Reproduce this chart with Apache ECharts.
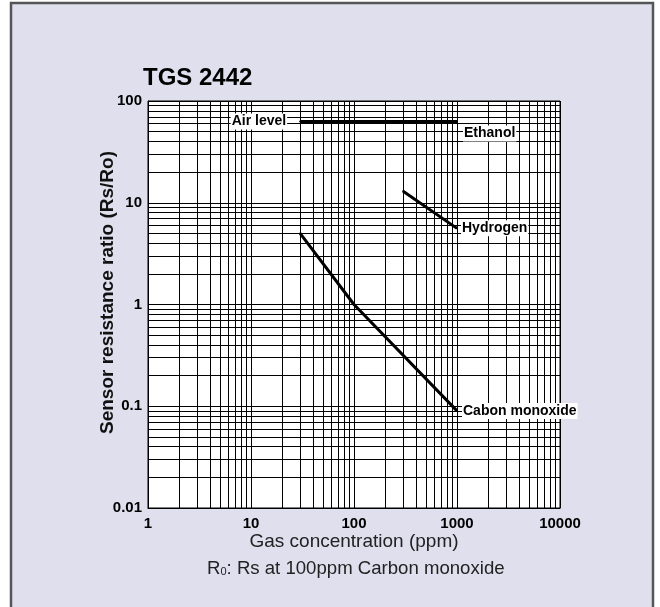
<!DOCTYPE html>
<html lang="en">
<head>
    <meta charset="UTF-8">
    <script src="https://cdn.jsdelivr.net/npm/echarts@6.0.0/dist/echarts.min.js"></script>
    <title>TGS 2442</title>
    <style>
        body { margin: 0; background: #fff; }
        #chart { width: 660px; height: 607px; }
    </style>
</head>
<body>
    <div id="chart"></div>
    <script type="text/javascript">
        // values (ppm, Rs/Ro)
        var ethanol = [[30, 63], [1000, 63]];
        var hydrogen = [[300, 13], [1000, 5.6]];
        var carbonMonoxide = [[30, 5], [100, 1], [1000, 0.09]];
        var xTicks = [1, 10, 100, 1000, 10000];
        var yTicks = [0.01, 0.1, 1, 10, 100];

        var sans = 'Arial, "Liberation Sans", Helvetica, sans-serif';
        var labelBox = {
            fontFamily: sans,
            fontWeight: 'bold',
            fontSize: 14,
            color: '#000',
            backgroundColor: '#fff',
            padding: [1, 1]
        };

        // log grid: 1..9 in every decade
        function gridValues(ticks) {
            var out = [];
            for (var i = 0; i < ticks.length - 1; i++) {
                for (var k = 1; k < 10; k++) out.push(ticks[i] * k);
            }
            out.push(ticks[ticks.length - 1]);
            return out;
        }
        var gridLines = [];
        gridValues(xTicks).forEach(function (v) { gridLines.push({ xAxis: v }); });
        gridValues(yTicks).forEach(function (v) { gridLines.push({ yAxis: v }); });

        function withLabels(points, labels) {
            return points.map(function (p, i) {
                var item = { value: p };
                if (labels[i]) item.label = Object.assign({ show: true }, labelBox, labels[i]);
                return item;
            });
        }

        function curve(name, points, labels) {
            return {
                name: name,
                type: 'line',
                symbol: 'circle',
                symbolSize: 2,
                showSymbol: true,
                itemStyle: { color: '#000' },
                lineStyle: { color: '#000', width: 3 },
                label: { show: false },
                data: withLabels(points, labels),
                z: 5
            };
        }

        var chart = echarts.init(document.getElementById('chart'));
        var option = {
            backgroundColor: '#fff',
            animation: false,
            graphic: [
                {
                    type: 'rect',
                    shape: { x: 11, y: 3, width: 642, height: 620 },
                    style: { fill: '#dfdfee', stroke: '#555', lineWidth: 2.5 },
                    z: -10
                },
                {
                    type: 'text',
                    left: 207,
                    top: 559,
                    style: {
                        text: '{r|R}{s|0}{r|: Rs at 100ppm Carbon monoxide}',
                        rich: {
                            r: { fontFamily: sans, fontSize: 18.6, fill: '#222' },
                            s: { fontFamily: sans, fontSize: 11, fill: '#222', padding: [6, 0, 0, 0] }
                        }
                    }
                }
            ],
            title: {
                text: 'TGS 2442',
                left: 138,
                top: 61,
                textStyle: { fontFamily: sans, fontWeight: 'bold', fontSize: 24, color: '#000' }
            },
            grid: {
                left: 148, right: 100, top: 101, bottom: 99,
                show: true, backgroundColor: '#fff', borderColor: '#000', borderWidth: 1
            },
            xAxis: {
                type: 'log',
                logBase: 10,
                min: 1,
                max: 10000,
                name: 'Gas concentration (ppm)',
                nameLocation: 'middle',
                nameGap: 24,
                nameMoveOverlap: false,
                nameTextStyle: { fontFamily: sans, fontSize: 19, color: '#222' },
                axisLine: { lineStyle: { color: '#000' } },
                axisTick: { show: false },
                splitLine: { show: false },
                axisLabel: {
                    fontFamily: sans, fontWeight: 'bold', fontSize: 15, color: '#000', margin: 8,
                    formatter: function (v) { return String(v); }
                }
            },
            yAxis: {
                type: 'log',
                logBase: 10,
                min: 0.01,
                max: 100,
                name: 'Sensor resistance ratio (Rs/Ro)',
                nameLocation: 'middle',
                nameGap: 31,
                nameMoveOverlap: false,
                nameTextStyle: { fontFamily: sans, fontWeight: 'bold', fontSize: 19, color: '#111', padding: [0, 0, 0, 24] },
                axisLine: { lineStyle: { color: '#000' } },
                axisTick: { show: false },
                splitLine: { show: false },
                axisLabel: {
                    fontFamily: sans, fontWeight: 'bold', fontSize: 15, color: '#000', margin: 6,
                    formatter: function (v) { return String(v); }
                }
            },
            series: [
                {
                    name: 'grid',
                    type: 'line',
                    data: [],
                    silent: true,
                    markLine: {
                        silent: true,
                        symbol: ['none', 'none'],
                        label: { show: false },
                        lineStyle: { type: 'solid', color: '#000', width: 1 },
                        emphasis: { disabled: true },
                        data: gridLines
                    },
                    z: 1
                },
                curve('Ethanol', ethanol, [
                    { position: 'left', distance: 12, formatter: 'Air level' },
                    { position: 'right', distance: 5, offset: [0, 12], formatter: 'Ethanol' }
                ]),
                curve('Hydrogen', hydrogen, [null, { position: 'right', distance: 3, formatter: 'Hydrogen' }]),
                curve('Cabon monoxide', carbonMonoxide, [null, null, { position: 'right', distance: 4, formatter: 'Cabon monoxide' }])
            ]
        };
        chart.setOption(option);
    </script>
</body>
</html>
